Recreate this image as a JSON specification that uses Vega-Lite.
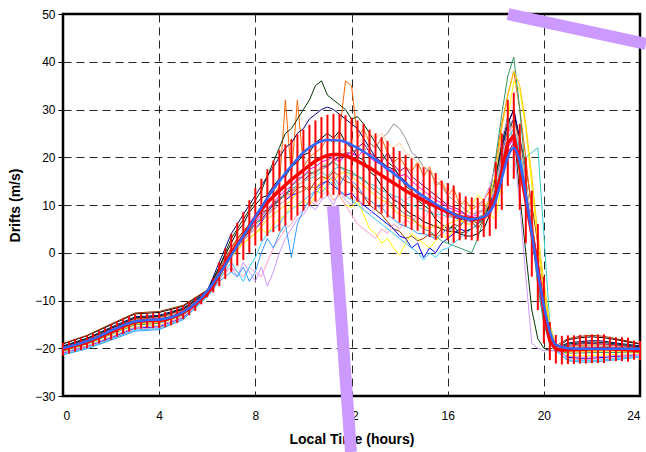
{
"$schema": "https://vega.github.io/schema/vega-lite/v6.json",
"width": 577, "height": 382,
"autosize": {"type": "none"},
"padding": {"left": 63, "top": 14, "right": 6, "bottom": 56},
"background": "white",
"config": {"font": "Liberation Sans", "view": {"stroke": "#000", "strokeWidth": 2.5}},
"datasets": {
"days": [
{"s":"A","t":0,"v":-19.1},{"s":"A","t":1,"v":-17.4},{"s":"A","t":2,"v":-15.1},{"s":"A","t":3,"v":-12.8},{"s":"A","t":4,"v":-12.5},{"s":"A","t":5,"v":-11.2},{"s":"A","t":6,"v":-7.9},{"s":"A","t":6.5,"v":-3},
{"s":"A","t":7,"v":2},{"s":"A","t":7.25,"v":4.5},{"s":"A","t":7.5,"v":6},{"s":"A","t":7.75,"v":8.5},
{"s":"A","t":8,"v":10},{"s":"A","t":8.25,"v":11.5},{"s":"A","t":8.5,"v":12},{"s":"A","t":8.75,"v":14},
{"s":"A","t":9,"v":15.5},{"s":"A","t":9.25,"v":16},{"s":"A","t":9.5,"v":18},{"s":"A","t":9.75,"v":19},
{"s":"A","t":10,"v":20.5},{"s":"A","t":10.25,"v":21},{"s":"A","t":10.5,"v":23},{"s":"A","t":10.75,"v":24},
{"s":"A","t":11,"v":25},{"s":"A","t":11.25,"v":24},{"s":"A","t":11.5,"v":25.5},{"s":"A","t":11.75,"v":23},
{"s":"A","t":12,"v":22},{"s":"A","t":12.25,"v":20},{"s":"A","t":12.5,"v":19.5},{"s":"A","t":12.75,"v":17},
{"s":"A","t":13,"v":16},{"s":"A","t":13.25,"v":14},{"s":"A","t":13.5,"v":12.5},{"s":"A","t":13.75,"v":11},
{"s":"A","t":14,"v":10.5},{"s":"A","t":14.25,"v":9},{"s":"A","t":14.5,"v":8},{"s":"A","t":14.75,"v":7.5},
{"s":"A","t":15,"v":6.5},{"s":"A","t":15.25,"v":6},{"s":"A","t":15.5,"v":5.5},{"s":"A","t":15.75,"v":5},
{"s":"A","t":16,"v":4.5},{"s":"A","t":16.25,"v":4.5},{"s":"A","t":16.5,"v":4},{"s":"A","t":16.75,"v":3.5},
{"s":"A","t":17,"v":3.5},{"s":"A","t":17.25,"v":4},{"s":"A","t":17.5,"v":5},{"s":"A","t":17.75,"v":8},
{"s":"A","t":18,"v":14},{"s":"A","t":18.25,"v":21},{"s":"A","t":18.5,"v":27},{"s":"A","t":18.75,"v":30},
{"s":"A","t":19,"v":22},{"s":"A","t":19.25,"v":14},{"s":"A","t":19.5,"v":6},{"s":"A","t":19.75,"v":-2},
{"s":"A","t":20,"v":-11},{"s":"A","t":20.25,"v":-18},{"s":"A","t":20.5,"v":-20},
{"s":"A","t":21,"v":-18.2},{"s":"A","t":21.5,"v":-17.8},{"s":"A","t":22,"v":-17.6},{"s":"A","t":22.5,"v":-17.8},{"s":"A","t":23,"v":-18.2},{"s":"A","t":23.5,"v":-18.7},{"s":"A","t":24,"v":-19.1},

{"s":"B","t":0,"v":-19.0},{"s":"B","t":1,"v":-17.3},{"s":"B","t":2,"v":-14.9},{"s":"B","t":3,"v":-12.6},{"s":"B","t":4,"v":-12.3},{"s":"B","t":5,"v":-11.0},{"s":"B","t":6,"v":-7.8},{"s":"B","t":6.5,"v":-3.5},
{"s":"B","t":7,"v":1},{"s":"B","t":7.25,"v":3},{"s":"B","t":7.5,"v":4.5},{"s":"B","t":7.75,"v":6},
{"s":"B","t":8,"v":7},{"s":"B","t":8.25,"v":8.5},{"s":"B","t":8.5,"v":9},{"s":"B","t":8.75,"v":10.5},
{"s":"B","t":9,"v":11},{"s":"B","t":9.25,"v":12.5},{"s":"B","t":9.5,"v":12},{"s":"B","t":9.75,"v":13.5},
{"s":"B","t":10,"v":14},{"s":"B","t":10.25,"v":13},{"s":"B","t":10.5,"v":15},{"s":"B","t":10.75,"v":16},
{"s":"B","t":11,"v":15.5},{"s":"B","t":11.25,"v":17},{"s":"B","t":11.5,"v":16},{"s":"B","t":11.75,"v":15},
{"s":"B","t":12,"v":14.5},{"s":"B","t":12.25,"v":13},{"s":"B","t":12.5,"v":12},{"s":"B","t":12.75,"v":10},
{"s":"B","t":13,"v":9},{"s":"B","t":13.25,"v":8},{"s":"B","t":13.5,"v":6.5},{"s":"B","t":13.75,"v":5},
{"s":"B","t":14,"v":4.5},{"s":"B","t":14.25,"v":3},{"s":"B","t":14.5,"v":3.5},{"s":"B","t":14.75,"v":2.5},
{"s":"B","t":15,"v":3},{"s":"B","t":15.25,"v":4},{"s":"B","t":15.5,"v":3.5},{"s":"B","t":15.75,"v":5},
{"s":"B","t":16,"v":4.5},{"s":"B","t":16.25,"v":6},{"s":"B","t":16.5,"v":5.5},{"s":"B","t":16.75,"v":7},
{"s":"B","t":17,"v":6.5},{"s":"B","t":17.25,"v":5},{"s":"B","t":17.5,"v":7},{"s":"B","t":17.75,"v":10},
{"s":"B","t":18,"v":15},{"s":"B","t":18.25,"v":21},{"s":"B","t":18.5,"v":25},{"s":"B","t":18.75,"v":28},
{"s":"B","t":19,"v":24},{"s":"B","t":19.25,"v":18},{"s":"B","t":19.5,"v":10},{"s":"B","t":19.75,"v":2},
{"s":"B","t":20,"v":-8},{"s":"B","t":20.25,"v":-17},{"s":"B","t":20.5,"v":-19.5},
{"s":"B","t":21,"v":-18.0},{"s":"B","t":21.5,"v":-17.5},{"s":"B","t":22,"v":-17.3},{"s":"B","t":22.5,"v":-17.5},{"s":"B","t":23,"v":-18.0},{"s":"B","t":23.5,"v":-18.5},{"s":"B","t":24,"v":-19.0},

{"s":"C","t":0,"v":-19.8},{"s":"C","t":1,"v":-18.3},{"s":"C","t":2,"v":-16.1},{"s":"C","t":3,"v":-13.9},{"s":"C","t":4,"v":-13.6},{"s":"C","t":5,"v":-12.1},{"s":"C","t":6,"v":-8.3},{"s":"C","t":6.5,"v":-4},
{"s":"C","t":7,"v":0},{"s":"C","t":7.25,"v":3},{"s":"C","t":7.5,"v":4},{"s":"C","t":7.75,"v":6},
{"s":"C","t":8,"v":7},{"s":"C","t":8.25,"v":9},{"s":"C","t":8.5,"v":11},{"s":"C","t":8.75,"v":12},
{"s":"C","t":9,"v":14},{"s":"C","t":9.25,"v":32},{"s":"C","t":9.5,"v":16},{"s":"C","t":9.75,"v":32},
{"s":"C","t":10,"v":18},{"s":"C","t":10.25,"v":20},{"s":"C","t":10.5,"v":21},{"s":"C","t":10.75,"v":22},
{"s":"C","t":11,"v":24},{"s":"C","t":11.25,"v":23},{"s":"C","t":11.5,"v":25},{"s":"C","t":11.75,"v":36},
{"s":"C","t":12,"v":35},{"s":"C","t":12.25,"v":24},{"s":"C","t":12.5,"v":26},{"s":"C","t":12.75,"v":23},
{"s":"C","t":13,"v":22},{"s":"C","t":13.25,"v":24},{"s":"C","t":13.5,"v":21},{"s":"C","t":13.75,"v":19},
{"s":"C","t":14,"v":20},{"s":"C","t":14.25,"v":18},{"s":"C","t":14.5,"v":17},{"s":"C","t":14.75,"v":19},
{"s":"C","t":15,"v":16},{"s":"C","t":15.25,"v":18},{"s":"C","t":15.5,"v":14},{"s":"C","t":15.75,"v":15},
{"s":"C","t":16,"v":12},{"s":"C","t":16.25,"v":13.5},{"s":"C","t":16.5,"v":10},{"s":"C","t":16.75,"v":11},
{"s":"C","t":17,"v":9},{"s":"C","t":17.25,"v":10},{"s":"C","t":17.5,"v":11},{"s":"C","t":17.75,"v":13},
{"s":"C","t":18,"v":19},{"s":"C","t":18.25,"v":27},{"s":"C","t":18.5,"v":33},{"s":"C","t":18.75,"v":38},
{"s":"C","t":19,"v":30},{"s":"C","t":19.25,"v":20},{"s":"C","t":19.5,"v":8},{"s":"C","t":19.75,"v":-5},
{"s":"C","t":20,"v":-13},{"s":"C","t":20.25,"v":-18},{"s":"C","t":20.5,"v":-20},
{"s":"C","t":21,"v":-19.6},{"s":"C","t":21.5,"v":-19.4},{"s":"C","t":22,"v":-19.3},{"s":"C","t":22.5,"v":-19.3},{"s":"C","t":23,"v":-19.5},{"s":"C","t":23.5,"v":-19.8},{"s":"C","t":24,"v":-20.0},

{"s":"D","t":0,"v":-20.8},{"s":"D","t":1,"v":-19.4},{"s":"D","t":2,"v":-17.5},{"s":"D","t":3,"v":-15.5},{"s":"D","t":4,"v":-15.2},{"s":"D","t":5,"v":-13.3},{"s":"D","t":6,"v":-8.9},{"s":"D","t":6.5,"v":-5},
{"s":"D","t":7,"v":-1},{"s":"D","t":7.25,"v":1},{"s":"D","t":7.5,"v":2},{"s":"D","t":7.75,"v":3},
{"s":"D","t":8,"v":4},{"s":"D","t":8.25,"v":5},{"s":"D","t":8.5,"v":4},{"s":"D","t":8.75,"v":6},
{"s":"D","t":9,"v":7},{"s":"D","t":9.25,"v":8},{"s":"D","t":9.5,"v":10},{"s":"D","t":9.75,"v":9.5},
{"s":"D","t":10,"v":11},{"s":"D","t":10.25,"v":10},{"s":"D","t":10.5,"v":12},{"s":"D","t":10.75,"v":14},
{"s":"D","t":11,"v":13},{"s":"D","t":11.25,"v":11},{"s":"D","t":11.5,"v":12},{"s":"D","t":11.75,"v":10},
{"s":"D","t":12,"v":9.5},{"s":"D","t":12.25,"v":11},{"s":"D","t":12.5,"v":8},{"s":"D","t":12.75,"v":5},
{"s":"D","t":13,"v":4},{"s":"D","t":13.25,"v":2},{"s":"D","t":13.5,"v":3},{"s":"D","t":13.75,"v":1},
{"s":"D","t":14,"v":-0.5},{"s":"D","t":14.25,"v":2},{"s":"D","t":14.5,"v":4},{"s":"D","t":14.75,"v":3},
{"s":"D","t":15,"v":2},{"s":"D","t":15.25,"v":1},{"s":"D","t":15.5,"v":2.5},{"s":"D","t":15.75,"v":4},
{"s":"D","t":16,"v":3},{"s":"D","t":16.25,"v":5},{"s":"D","t":16.5,"v":6},{"s":"D","t":16.75,"v":8},
{"s":"D","t":17,"v":10},{"s":"D","t":17.25,"v":12},{"s":"D","t":17.5,"v":11},{"s":"D","t":17.75,"v":8},
{"s":"D","t":18,"v":7},{"s":"D","t":18.25,"v":15},{"s":"D","t":18.5,"v":28},{"s":"D","t":18.75,"v":36},
{"s":"D","t":19,"v":34},{"s":"D","t":19.25,"v":26},{"s":"D","t":19.5,"v":14},{"s":"D","t":19.75,"v":2},
{"s":"D","t":20,"v":-8},{"s":"D","t":20.25,"v":-16},{"s":"D","t":20.5,"v":-19.5},
{"s":"D","t":21,"v":-21.5},{"s":"D","t":21.5,"v":-21.6},{"s":"D","t":22,"v":-21.5},{"s":"D","t":22.5,"v":-21.4},{"s":"D","t":23,"v":-21.3},{"s":"D","t":23.5,"v":-21.2},{"s":"D","t":24,"v":-21.2},

{"s":"E","t":0,"v":-20.3},{"s":"E","t":1,"v":-18.8},{"s":"E","t":2,"v":-16.8},{"s":"E","t":3,"v":-14.7},{"s":"E","t":4,"v":-14.4},{"s":"E","t":5,"v":-12.7},{"s":"E","t":6,"v":-8.6},{"s":"E","t":6.5,"v":-4.5},
{"s":"E","t":7,"v":-1},{"s":"E","t":7.25,"v":1.5},{"s":"E","t":7.5,"v":3},{"s":"E","t":7.75,"v":4.5},
{"s":"E","t":8,"v":6},{"s":"E","t":8.25,"v":7},{"s":"E","t":8.5,"v":8.5},{"s":"E","t":8.75,"v":10},
{"s":"E","t":9,"v":11},{"s":"E","t":9.25,"v":12},{"s":"E","t":9.5,"v":13.5},{"s":"E","t":9.75,"v":14},
{"s":"E","t":10,"v":15},{"s":"E","t":10.25,"v":15.5},{"s":"E","t":10.5,"v":16},{"s":"E","t":10.75,"v":17},
{"s":"E","t":11,"v":16},{"s":"E","t":11.25,"v":17.5},{"s":"E","t":11.5,"v":18},{"s":"E","t":11.75,"v":17},
{"s":"E","t":12,"v":16.5},{"s":"E","t":12.25,"v":16},{"s":"E","t":12.5,"v":15},{"s":"E","t":12.75,"v":14.5},
{"s":"E","t":13,"v":14},{"s":"E","t":13.25,"v":13},{"s":"E","t":13.5,"v":12.5},{"s":"E","t":13.75,"v":12},
{"s":"E","t":14,"v":11.5},{"s":"E","t":14.25,"v":10.5},{"s":"E","t":14.5,"v":10},{"s":"E","t":14.75,"v":9.5},
{"s":"E","t":15,"v":9},{"s":"E","t":15.25,"v":8.5},{"s":"E","t":15.5,"v":8},{"s":"E","t":15.75,"v":8},
{"s":"E","t":16,"v":7.5},{"s":"E","t":16.25,"v":7.5},{"s":"E","t":16.5,"v":7},{"s":"E","t":16.75,"v":7},
{"s":"E","t":17,"v":7},{"s":"E","t":17.25,"v":7},{"s":"E","t":17.5,"v":8},{"s":"E","t":17.75,"v":10},
{"s":"E","t":18,"v":14},{"s":"E","t":18.25,"v":22},{"s":"E","t":18.5,"v":29},{"s":"E","t":18.75,"v":22},
{"s":"E","t":19,"v":20},{"s":"E","t":19.25,"v":20},{"s":"E","t":19.5,"v":21},{"s":"E","t":19.75,"v":22},
{"s":"E","t":20,"v":4},{"s":"E","t":20.25,"v":-15},{"s":"E","t":20.5,"v":-20},
{"s":"E","t":21,"v":-20.5},{"s":"E","t":21.5,"v":-20.5},{"s":"E","t":22,"v":-20.4},{"s":"E","t":22.5,"v":-20.4},{"s":"E","t":23,"v":-20.4},{"s":"E","t":23.5,"v":-20.5},{"s":"E","t":24,"v":-20.6},

{"s":"F","t":0,"v":-21.0},{"s":"F","t":1,"v":-19.7},{"s":"F","t":2,"v":-17.8},{"s":"F","t":3,"v":-15.8},{"s":"F","t":4,"v":-15.5},{"s":"F","t":5,"v":-13.6},{"s":"F","t":6,"v":-9.0},{"s":"F","t":6.5,"v":-5},
{"s":"F","t":7,"v":-1},{"s":"F","t":7.25,"v":1},{"s":"F","t":7.5,"v":2.5},{"s":"F","t":7.75,"v":4},
{"s":"F","t":8,"v":5},{"s":"F","t":8.25,"v":6.5},{"s":"F","t":8.5,"v":8},{"s":"F","t":8.75,"v":9},
{"s":"F","t":9,"v":10},{"s":"F","t":9.25,"v":11},{"s":"F","t":9.5,"v":12},{"s":"F","t":9.75,"v":12.5},
{"s":"F","t":10,"v":13},{"s":"F","t":10.25,"v":14},{"s":"F","t":10.5,"v":13.5},{"s":"F","t":10.75,"v":14.5},
{"s":"F","t":11,"v":15},{"s":"F","t":11.25,"v":14},{"s":"F","t":11.5,"v":13},{"s":"F","t":11.75,"v":12},
{"s":"F","t":12,"v":12.5},{"s":"F","t":12.25,"v":11},{"s":"F","t":12.5,"v":10},{"s":"F","t":12.75,"v":9},
{"s":"F","t":13,"v":8},{"s":"F","t":13.25,"v":7},{"s":"F","t":13.5,"v":6},{"s":"F","t":13.75,"v":5},
{"s":"F","t":14,"v":3.5},{"s":"F","t":14.25,"v":3},{"s":"F","t":14.5,"v":1},{"s":"F","t":14.75,"v":2},
{"s":"F","t":15,"v":-1},{"s":"F","t":15.25,"v":1},{"s":"F","t":15.5,"v":0},{"s":"F","t":15.75,"v":2},
{"s":"F","t":16,"v":3},{"s":"F","t":16.25,"v":4},{"s":"F","t":16.5,"v":5},{"s":"F","t":16.75,"v":4.5},
{"s":"F","t":17,"v":5},{"s":"F","t":17.25,"v":6},{"s":"F","t":17.5,"v":7.5},{"s":"F","t":17.75,"v":9},
{"s":"F","t":18,"v":13},{"s":"F","t":18.25,"v":20},{"s":"F","t":18.5,"v":26},{"s":"F","t":18.75,"v":28},
{"s":"F","t":19,"v":22},{"s":"F","t":19.25,"v":14},{"s":"F","t":19.5,"v":5},{"s":"F","t":19.75,"v":-4},
{"s":"F","t":20,"v":-12},{"s":"F","t":20.25,"v":-18},{"s":"F","t":20.5,"v":-20},
{"s":"F","t":21,"v":-21.9},{"s":"F","t":21.5,"v":-22.1},{"s":"F","t":22,"v":-22.1},{"s":"F","t":22.5,"v":-21.9},{"s":"F","t":23,"v":-21.7},{"s":"F","t":23.5,"v":-21.6},{"s":"F","t":24,"v":-21.4},

{"s":"G","t":0,"v":-19.5},{"s":"G","t":1,"v":-17.9},{"s":"G","t":2,"v":-15.6},{"s":"G","t":3,"v":-13.4},{"s":"G","t":4,"v":-13.1},{"s":"G","t":5,"v":-11.6},{"s":"G","t":6,"v":-8.1},{"s":"G","t":6.5,"v":-2},
{"s":"G","t":7,"v":4},{"s":"G","t":7.25,"v":6},{"s":"G","t":7.5,"v":8},{"s":"G","t":7.75,"v":10},
{"s":"G","t":8,"v":12},{"s":"G","t":8.25,"v":14},{"s":"G","t":8.5,"v":16},{"s":"G","t":8.75,"v":18},
{"s":"G","t":9,"v":20},{"s":"G","t":9.25,"v":22},{"s":"G","t":9.5,"v":23},{"s":"G","t":9.75,"v":25},
{"s":"G","t":10,"v":26},{"s":"G","t":10.25,"v":28},{"s":"G","t":10.5,"v":29},{"s":"G","t":10.75,"v":30},
{"s":"G","t":11,"v":30.5},{"s":"G","t":11.25,"v":30},{"s":"G","t":11.5,"v":29},{"s":"G","t":11.75,"v":28},
{"s":"G","t":12,"v":27},{"s":"G","t":12.25,"v":26},{"s":"G","t":12.5,"v":24},{"s":"G","t":12.75,"v":22},
{"s":"G","t":13,"v":20},{"s":"G","t":13.25,"v":19},{"s":"G","t":13.5,"v":18},{"s":"G","t":13.75,"v":17.5},
{"s":"G","t":14,"v":16},{"s":"G","t":14.25,"v":15},{"s":"G","t":14.5,"v":13.5},{"s":"G","t":14.75,"v":12.5},
{"s":"G","t":15,"v":11},{"s":"G","t":15.25,"v":10.5},{"s":"G","t":15.5,"v":9.5},{"s":"G","t":15.75,"v":9},
{"s":"G","t":16,"v":8},{"s":"G","t":16.25,"v":7.5},{"s":"G","t":16.5,"v":7},{"s":"G","t":16.75,"v":7},
{"s":"G","t":17,"v":6.5},{"s":"G","t":17.25,"v":7},{"s":"G","t":17.5,"v":8},{"s":"G","t":17.75,"v":11},
{"s":"G","t":18,"v":16},{"s":"G","t":18.25,"v":22},{"s":"G","t":18.5,"v":27},{"s":"G","t":18.75,"v":30},
{"s":"G","t":19,"v":24},{"s":"G","t":19.25,"v":15},{"s":"G","t":19.5,"v":6},{"s":"G","t":19.75,"v":-4},
{"s":"G","t":20,"v":-12},{"s":"G","t":20.25,"v":-18},{"s":"G","t":20.5,"v":-20},
{"s":"G","t":21,"v":-18.9},{"s":"G","t":21.5,"v":-18.6},{"s":"G","t":22,"v":-18.4},{"s":"G","t":22.5,"v":-18.5},{"s":"G","t":23,"v":-18.9},{"s":"G","t":23.5,"v":-19.2},{"s":"G","t":24,"v":-19.5},

{"s":"H","t":0,"v":-20.2},{"s":"H","t":1,"v":-18.7},{"s":"H","t":2,"v":-16.6},{"s":"H","t":3,"v":-14.5},{"s":"H","t":4,"v":-14.2},{"s":"H","t":5,"v":-12.5},{"s":"H","t":6,"v":-8.5},{"s":"H","t":6.5,"v":-4},
{"s":"H","t":7,"v":0},{"s":"H","t":7.25,"v":2},{"s":"H","t":7.5,"v":3.5},{"s":"H","t":7.75,"v":5},
{"s":"H","t":8,"v":6.5},{"s":"H","t":8.25,"v":8},{"s":"H","t":8.5,"v":9},{"s":"H","t":8.75,"v":10.5},
{"s":"H","t":9,"v":12},{"s":"H","t":9.25,"v":13},{"s":"H","t":9.5,"v":14},{"s":"H","t":9.75,"v":15.5},
{"s":"H","t":10,"v":16},{"s":"H","t":10.25,"v":17.5},{"s":"H","t":10.5,"v":18},{"s":"H","t":10.75,"v":19},
{"s":"H","t":11,"v":19.5},{"s":"H","t":11.25,"v":20},{"s":"H","t":11.5,"v":19},{"s":"H","t":11.75,"v":20.5},
{"s":"H","t":12,"v":21},{"s":"H","t":12.25,"v":20},{"s":"H","t":12.5,"v":21.5},{"s":"H","t":12.75,"v":20},
{"s":"H","t":13,"v":19},{"s":"H","t":13.25,"v":18.5},{"s":"H","t":13.5,"v":17},{"s":"H","t":13.75,"v":17.5},
{"s":"H","t":14,"v":16},{"s":"H","t":14.25,"v":16.5},{"s":"H","t":14.5,"v":15},{"s":"H","t":14.75,"v":14},
{"s":"H","t":15,"v":13},{"s":"H","t":15.25,"v":12},{"s":"H","t":15.5,"v":11},{"s":"H","t":15.75,"v":10.5},
{"s":"H","t":16,"v":9.5},{"s":"H","t":16.25,"v":9},{"s":"H","t":16.5,"v":8.5},{"s":"H","t":16.75,"v":8},
{"s":"H","t":17,"v":7.5},{"s":"H","t":17.25,"v":8},{"s":"H","t":17.5,"v":9},{"s":"H","t":17.75,"v":10},
{"s":"H","t":18,"v":13},{"s":"H","t":18.25,"v":18},{"s":"H","t":18.5,"v":22},{"s":"H","t":18.75,"v":24},
{"s":"H","t":19,"v":20},{"s":"H","t":19.25,"v":12},{"s":"H","t":19.5,"v":4},{"s":"H","t":19.75,"v":-5},
{"s":"H","t":20,"v":-13},{"s":"H","t":20.25,"v":-18},{"s":"H","t":20.5,"v":-20},
{"s":"H","t":21,"v":-20.3},{"s":"H","t":21.5,"v":-20.2},{"s":"H","t":22,"v":-20.1},{"s":"H","t":22.5,"v":-20.1},{"s":"H","t":23,"v":-20.2},{"s":"H","t":23.5,"v":-20.3},{"s":"H","t":24,"v":-20.5},

{"s":"I","t":0,"v":-19.7},{"s":"I","t":1,"v":-18.1},{"s":"I","t":2,"v":-15.9},{"s":"I","t":3,"v":-13.7},{"s":"I","t":4,"v":-13.4},{"s":"I","t":5,"v":-11.9},{"s":"I","t":6,"v":-8.2},{"s":"I","t":6.5,"v":-4},
{"s":"I","t":7,"v":0},{"s":"I","t":7.25,"v":2},{"s":"I","t":7.5,"v":3},{"s":"I","t":7.75,"v":4.5},
{"s":"I","t":8,"v":6},{"s":"I","t":8.25,"v":7},{"s":"I","t":8.5,"v":8.5},{"s":"I","t":8.75,"v":10},
{"s":"I","t":9,"v":11},{"s":"I","t":9.25,"v":12.5},{"s":"I","t":9.5,"v":13},{"s":"I","t":9.75,"v":14},
{"s":"I","t":10,"v":15},{"s":"I","t":10.25,"v":16.5},{"s":"I","t":10.5,"v":17},{"s":"I","t":10.75,"v":18},
{"s":"I","t":11,"v":18},{"s":"I","t":11.25,"v":19.5},{"s":"I","t":11.5,"v":20},{"s":"I","t":11.75,"v":21},
{"s":"I","t":12,"v":20},{"s":"I","t":12.25,"v":22},{"s":"I","t":12.5,"v":23},{"s":"I","t":12.75,"v":21},
{"s":"I","t":13,"v":20},{"s":"I","t":13.25,"v":19},{"s":"I","t":13.5,"v":21},{"s":"I","t":13.75,"v":18.5},
{"s":"I","t":14,"v":17},{"s":"I","t":14.25,"v":18},{"s":"I","t":14.5,"v":16},{"s":"I","t":14.75,"v":15},
{"s":"I","t":15,"v":14},{"s":"I","t":15.25,"v":13},{"s":"I","t":15.5,"v":12},{"s":"I","t":15.75,"v":11},
{"s":"I","t":16,"v":10},{"s":"I","t":16.25,"v":9.5},{"s":"I","t":16.5,"v":9},{"s":"I","t":16.75,"v":8},
{"s":"I","t":17,"v":7},{"s":"I","t":17.25,"v":6},{"s":"I","t":17.5,"v":8},{"s":"I","t":17.75,"v":10},
{"s":"I","t":18,"v":12},{"s":"I","t":18.25,"v":17},{"s":"I","t":18.5,"v":21},{"s":"I","t":18.75,"v":23},
{"s":"I","t":19,"v":21},{"s":"I","t":19.25,"v":13},{"s":"I","t":19.5,"v":5},{"s":"I","t":19.75,"v":-4},
{"s":"I","t":20,"v":-12},{"s":"I","t":20.25,"v":-18},{"s":"I","t":20.5,"v":-20},
{"s":"I","t":21,"v":-19.4},{"s":"I","t":21.5,"v":-19.1},{"s":"I","t":22,"v":-19.0},{"s":"I","t":22.5,"v":-19.1},{"s":"I","t":23,"v":-19.3},{"s":"I","t":23.5,"v":-19.6},{"s":"I","t":24,"v":-19.9},

{"s":"J","t":0,"v":-19.6},{"s":"J","t":1,"v":-18.0},{"s":"J","t":2,"v":-15.8},{"s":"J","t":3,"v":-13.6},{"s":"J","t":4,"v":-13.3},{"s":"J","t":5,"v":-11.8},{"s":"J","t":6,"v":-8.2},{"s":"J","t":6.5,"v":-3},
{"s":"J","t":7,"v":3},{"s":"J","t":7.25,"v":5},{"s":"J","t":7.5,"v":7},{"s":"J","t":7.75,"v":9},
{"s":"J","t":8,"v":11},{"s":"J","t":8.25,"v":13},{"s":"J","t":8.5,"v":16},{"s":"J","t":8.75,"v":19},
{"s":"J","t":9,"v":22},{"s":"J","t":9.25,"v":25},{"s":"J","t":9.5,"v":26},{"s":"J","t":9.75,"v":28},
{"s":"J","t":10,"v":30},{"s":"J","t":10.25,"v":32},{"s":"J","t":10.5,"v":35},{"s":"J","t":10.75,"v":36},
{"s":"J","t":11,"v":33},{"s":"J","t":11.25,"v":32},{"s":"J","t":11.5,"v":31},{"s":"J","t":11.75,"v":30},
{"s":"J","t":12,"v":28},{"s":"J","t":12.25,"v":28.5},{"s":"J","t":12.5,"v":27},{"s":"J","t":12.75,"v":25},
{"s":"J","t":13,"v":23},{"s":"J","t":13.25,"v":21},{"s":"J","t":13.5,"v":19},{"s":"J","t":13.75,"v":18},
{"s":"J","t":14,"v":16},{"s":"J","t":14.25,"v":14},{"s":"J","t":14.5,"v":13},{"s":"J","t":14.75,"v":11},
{"s":"J","t":15,"v":10},{"s":"J","t":15.25,"v":9},{"s":"J","t":15.5,"v":7},{"s":"J","t":15.75,"v":6},
{"s":"J","t":16,"v":5},{"s":"J","t":16.25,"v":5.5},{"s":"J","t":16.5,"v":4},{"s":"J","t":16.75,"v":4.5},
{"s":"J","t":17,"v":5},{"s":"J","t":17.25,"v":6},{"s":"J","t":17.5,"v":7},{"s":"J","t":17.75,"v":10},
{"s":"J","t":18,"v":16},{"s":"J","t":18.25,"v":23},{"s":"J","t":18.5,"v":28},{"s":"J","t":18.75,"v":26},
{"s":"J","t":19,"v":12},{"s":"J","t":19.25,"v":0},{"s":"J","t":19.5,"v":-12},{"s":"J","t":19.75,"v":-18},
{"s":"J","t":20,"v":-20},{"s":"J","t":20.25,"v":-20.5},{"s":"J","t":20.5,"v":-20.5},
{"s":"J","t":21,"v":-19.1},{"s":"J","t":21.5,"v":-18.9},{"s":"J","t":22,"v":-18.7},{"s":"J","t":22.5,"v":-18.8},{"s":"J","t":23,"v":-19.1},{"s":"J","t":23.5,"v":-19.4},{"s":"J","t":24,"v":-19.7},

{"s":"K","t":0,"v":-20.6},{"s":"K","t":1,"v":-19.1},{"s":"K","t":2,"v":-17.1},{"s":"K","t":3,"v":-15.1},{"s":"K","t":4,"v":-14.8},{"s":"K","t":5,"v":-13.0},{"s":"K","t":6,"v":-8.7},{"s":"K","t":6.5,"v":-4},
{"s":"K","t":7,"v":0},{"s":"K","t":7.25,"v":2},{"s":"K","t":7.5,"v":3},{"s":"K","t":7.75,"v":5},
{"s":"K","t":8,"v":6},{"s":"K","t":8.25,"v":7.5},{"s":"K","t":8.5,"v":9},{"s":"K","t":8.75,"v":10},
{"s":"K","t":9,"v":11.5},{"s":"K","t":9.25,"v":12},{"s":"K","t":9.5,"v":14},{"s":"K","t":9.75,"v":15},
{"s":"K","t":10,"v":16},{"s":"K","t":10.25,"v":17},{"s":"K","t":10.5,"v":16.5},{"s":"K","t":10.75,"v":18},
{"s":"K","t":11,"v":18.5},{"s":"K","t":11.25,"v":19},{"s":"K","t":11.5,"v":18},{"s":"K","t":11.75,"v":17.5},
{"s":"K","t":12,"v":17},{"s":"K","t":12.25,"v":16},{"s":"K","t":12.5,"v":15.5},{"s":"K","t":12.75,"v":14},
{"s":"K","t":13,"v":13},{"s":"K","t":13.25,"v":12},{"s":"K","t":13.5,"v":11},{"s":"K","t":13.75,"v":10},
{"s":"K","t":14,"v":9},{"s":"K","t":14.25,"v":8},{"s":"K","t":14.5,"v":7.5},{"s":"K","t":14.75,"v":6},
{"s":"K","t":15,"v":5},{"s":"K","t":15.25,"v":4.5},{"s":"K","t":15.5,"v":3.5},{"s":"K","t":15.75,"v":2.5},
{"s":"K","t":16,"v":2},{"s":"K","t":16.25,"v":1.5},{"s":"K","t":16.5,"v":1},{"s":"K","t":16.75,"v":0.5},
{"s":"K","t":17,"v":0},{"s":"K","t":17.25,"v":3},{"s":"K","t":17.5,"v":7},{"s":"K","t":17.75,"v":12},
{"s":"K","t":18,"v":20},{"s":"K","t":18.25,"v":29},{"s":"K","t":18.5,"v":37},{"s":"K","t":18.75,"v":41},
{"s":"K","t":19,"v":30},{"s":"K","t":19.25,"v":16},{"s":"K","t":19.5,"v":4},{"s":"K","t":19.75,"v":-7},
{"s":"K","t":20,"v":-15},{"s":"K","t":20.25,"v":-19},{"s":"K","t":20.5,"v":-20.5},
{"s":"K","t":21,"v":-21.0},{"s":"K","t":21.5,"v":-21.0},{"s":"K","t":22,"v":-20.9},{"s":"K","t":22.5,"v":-20.9},{"s":"K","t":23,"v":-20.9},{"s":"K","t":23.5,"v":-20.8},{"s":"K","t":24,"v":-20.9},

{"s":"L","t":0,"v":-21.2},{"s":"L","t":1,"v":-19.8},{"s":"L","t":2,"v":-18.0},{"s":"L","t":3,"v":-16.0},{"s":"L","t":4,"v":-15.7},{"s":"L","t":5,"v":-13.7},{"s":"L","t":6,"v":-9.1},{"s":"L","t":6.5,"v":-5.5},
{"s":"L","t":7,"v":-3},{"s":"L","t":7.25,"v":-4},{"s":"L","t":7.5,"v":-5},{"s":"L","t":7.75,"v":-3},
{"s":"L","t":8,"v":-4},{"s":"L","t":8.25,"v":-5},{"s":"L","t":8.5,"v":-2},{"s":"L","t":8.75,"v":1},
{"s":"L","t":9,"v":3},{"s":"L","t":9.25,"v":5},{"s":"L","t":9.5,"v":6},{"s":"L","t":9.75,"v":8},
{"s":"L","t":10,"v":9},{"s":"L","t":10.25,"v":11},{"s":"L","t":10.5,"v":10},{"s":"L","t":10.75,"v":12},
{"s":"L","t":11,"v":13},{"s":"L","t":11.25,"v":11},{"s":"L","t":11.5,"v":12},{"s":"L","t":11.75,"v":10},
{"s":"L","t":12,"v":8},{"s":"L","t":12.25,"v":6},{"s":"L","t":12.5,"v":5},{"s":"L","t":12.75,"v":4},
{"s":"L","t":13,"v":3},{"s":"L","t":13.25,"v":5},{"s":"L","t":13.5,"v":4},{"s":"L","t":13.75,"v":6},
{"s":"L","t":14,"v":5},{"s":"L","t":14.25,"v":7},{"s":"L","t":14.5,"v":6},{"s":"L","t":14.75,"v":8},
{"s":"L","t":15,"v":7},{"s":"L","t":15.25,"v":9},{"s":"L","t":15.5,"v":8},{"s":"L","t":15.75,"v":7},
{"s":"L","t":16,"v":8},{"s":"L","t":16.25,"v":7.5},{"s":"L","t":16.5,"v":8},{"s":"L","t":16.75,"v":6},
{"s":"L","t":17,"v":7},{"s":"L","t":17.25,"v":8},{"s":"L","t":17.5,"v":9},{"s":"L","t":17.75,"v":11},
{"s":"L","t":18,"v":14},{"s":"L","t":18.25,"v":20},{"s":"L","t":18.5,"v":25},{"s":"L","t":18.75,"v":27},
{"s":"L","t":19,"v":22},{"s":"L","t":19.25,"v":14},{"s":"L","t":19.5,"v":5},{"s":"L","t":19.75,"v":-5},
{"s":"L","t":20,"v":-13},{"s":"L","t":20.25,"v":-18},{"s":"L","t":20.5,"v":-20},
{"s":"L","t":21,"v":-22.1},{"s":"L","t":21.5,"v":-22.4},{"s":"L","t":22,"v":-22.3},{"s":"L","t":22.5,"v":-22.2},{"s":"L","t":23,"v":-22.0},{"s":"L","t":23.5,"v":-21.7},{"s":"L","t":24,"v":-21.5},

{"s":"M","t":0,"v":-20.9},{"s":"M","t":1,"v":-19.5},{"s":"M","t":2,"v":-17.6},{"s":"M","t":3,"v":-15.6},{"s":"M","t":4,"v":-15.3},{"s":"M","t":5,"v":-13.4},{"s":"M","t":6,"v":-8.9},{"s":"M","t":6.5,"v":-5},
{"s":"M","t":7,"v":-3},{"s":"M","t":7.25,"v":-5},{"s":"M","t":7.5,"v":-2},{"s":"M","t":7.75,"v":-4},
{"s":"M","t":8,"v":-6},{"s":"M","t":8.25,"v":-3},{"s":"M","t":8.5,"v":-7},{"s":"M","t":8.75,"v":-4},
{"s":"M","t":9,"v":0},{"s":"M","t":9.25,"v":3},{"s":"M","t":9.5,"v":5},{"s":"M","t":9.75,"v":7},
{"s":"M","t":10,"v":8},{"s":"M","t":10.25,"v":10},{"s":"M","t":10.5,"v":9},{"s":"M","t":10.75,"v":11},
{"s":"M","t":11,"v":12},{"s":"M","t":11.25,"v":10},{"s":"M","t":11.5,"v":13},{"s":"M","t":11.75,"v":11},
{"s":"M","t":12,"v":10},{"s":"M","t":12.25,"v":12},{"s":"M","t":12.5,"v":9},{"s":"M","t":12.75,"v":8},
{"s":"M","t":13,"v":10},{"s":"M","t":13.25,"v":9},{"s":"M","t":13.5,"v":11},{"s":"M","t":13.75,"v":12},
{"s":"M","t":14,"v":10},{"s":"M","t":14.25,"v":11},{"s":"M","t":14.5,"v":12},{"s":"M","t":14.75,"v":13},
{"s":"M","t":15,"v":10},{"s":"M","t":15.25,"v":11},{"s":"M","t":15.5,"v":9},{"s":"M","t":15.75,"v":8},
{"s":"M","t":16,"v":9},{"s":"M","t":16.25,"v":8},{"s":"M","t":16.5,"v":7},{"s":"M","t":16.75,"v":8},
{"s":"M","t":17,"v":7},{"s":"M","t":17.25,"v":9},{"s":"M","t":17.5,"v":11},{"s":"M","t":17.75,"v":14},
{"s":"M","t":18,"v":18},{"s":"M","t":18.25,"v":24},{"s":"M","t":18.5,"v":28},{"s":"M","t":18.75,"v":22},
{"s":"M","t":19,"v":10},{"s":"M","t":19.25,"v":-5},{"s":"M","t":19.5,"v":-19},{"s":"M","t":19.75,"v":-20},
{"s":"M","t":20,"v":-20.5},{"s":"M","t":20.25,"v":-20.5},{"s":"M","t":20.5,"v":-20.5},
{"s":"M","t":21,"v":-21.7},{"s":"M","t":21.5,"v":-21.8},{"s":"M","t":22,"v":-21.8},{"s":"M","t":22.5,"v":-21.7},{"s":"M","t":23,"v":-21.5},{"s":"M","t":23.5,"v":-21.4},{"s":"M","t":24,"v":-21.3},

{"s":"N","t":0,"v":-20.0},{"s":"N","t":1,"v":-18.4},{"s":"N","t":2,"v":-16.3},{"s":"N","t":3,"v":-14.1},{"s":"N","t":4,"v":-13.8},{"s":"N","t":5,"v":-12.2},{"s":"N","t":6,"v":-8.4},{"s":"N","t":6.5,"v":-4},
{"s":"N","t":7,"v":0},{"s":"N","t":7.25,"v":1},{"s":"N","t":7.5,"v":3},{"s":"N","t":7.75,"v":4},
{"s":"N","t":8,"v":6},{"s":"N","t":8.25,"v":7},{"s":"N","t":8.5,"v":8},{"s":"N","t":8.75,"v":9.5},
{"s":"N","t":9,"v":11},{"s":"N","t":9.25,"v":12},{"s":"N","t":9.5,"v":12.5},{"s":"N","t":9.75,"v":14},
{"s":"N","t":10,"v":15},{"s":"N","t":10.25,"v":16},{"s":"N","t":10.5,"v":17},{"s":"N","t":10.75,"v":17.5},
{"s":"N","t":11,"v":18},{"s":"N","t":11.25,"v":19},{"s":"N","t":11.5,"v":20},{"s":"N","t":11.75,"v":21},
{"s":"N","t":12,"v":21},{"s":"N","t":12.25,"v":22},{"s":"N","t":12.5,"v":21},{"s":"N","t":12.75,"v":23},
{"s":"N","t":13,"v":22},{"s":"N","t":13.25,"v":24},{"s":"N","t":13.5,"v":25},{"s":"N","t":13.75,"v":27},
{"s":"N","t":14,"v":26},{"s":"N","t":14.25,"v":24},{"s":"N","t":14.5,"v":21},{"s":"N","t":14.75,"v":20},
{"s":"N","t":15,"v":18},{"s":"N","t":15.25,"v":17},{"s":"N","t":15.5,"v":15},{"s":"N","t":15.75,"v":14},
{"s":"N","t":16,"v":12},{"s":"N","t":16.25,"v":11},{"s":"N","t":16.5,"v":10},{"s":"N","t":16.75,"v":9},
{"s":"N","t":17,"v":8},{"s":"N","t":17.25,"v":8.5},{"s":"N","t":17.5,"v":9},{"s":"N","t":17.75,"v":11},
{"s":"N","t":18,"v":15},{"s":"N","t":18.25,"v":21},{"s":"N","t":18.5,"v":26},{"s":"N","t":18.75,"v":28},
{"s":"N","t":19,"v":22},{"s":"N","t":19.25,"v":14},{"s":"N","t":19.5,"v":6},{"s":"N","t":19.75,"v":-3},
{"s":"N","t":20,"v":-11},{"s":"N","t":20.25,"v":-18},{"s":"N","t":20.5,"v":-20},
{"s":"N","t":21,"v":-19.8},{"s":"N","t":21.5,"v":-19.7},{"s":"N","t":22,"v":-19.5},{"s":"N","t":22.5,"v":-19.6},{"s":"N","t":23,"v":-19.8},{"s":"N","t":23.5,"v":-20.0},{"s":"N","t":24,"v":-20.2},

{"s":"O","t":0,"v":-20.1},{"s":"O","t":1,"v":-18.6},{"s":"O","t":2,"v":-16.4},{"s":"O","t":3,"v":-14.3},{"s":"O","t":4,"v":-14.0},{"s":"O","t":5,"v":-12.4},{"s":"O","t":6,"v":-8.4},{"s":"O","t":6.5,"v":-4.5},
{"s":"O","t":7,"v":-1},{"s":"O","t":7.25,"v":1},{"s":"O","t":7.5,"v":2.5},{"s":"O","t":7.75,"v":4},
{"s":"O","t":8,"v":5},{"s":"O","t":8.25,"v":6},{"s":"O","t":8.5,"v":8},{"s":"O","t":8.75,"v":9},
{"s":"O","t":9,"v":10},{"s":"O","t":9.25,"v":11},{"s":"O","t":9.5,"v":13},{"s":"O","t":9.75,"v":14},
{"s":"O","t":10,"v":15},{"s":"O","t":10.25,"v":16},{"s":"O","t":10.5,"v":17},{"s":"O","t":10.75,"v":18},
{"s":"O","t":11,"v":19},{"s":"O","t":11.25,"v":20},{"s":"O","t":11.5,"v":21},{"s":"O","t":11.75,"v":22},
{"s":"O","t":12,"v":24},{"s":"O","t":12.25,"v":23},{"s":"O","t":12.5,"v":24},{"s":"O","t":12.75,"v":25},
{"s":"O","t":13,"v":24},{"s":"O","t":13.25,"v":25},{"s":"O","t":13.5,"v":23},{"s":"O","t":13.75,"v":22},
{"s":"O","t":14,"v":23},{"s":"O","t":14.25,"v":21},{"s":"O","t":14.5,"v":20},{"s":"O","t":14.75,"v":19},
{"s":"O","t":15,"v":18},{"s":"O","t":15.25,"v":17.5},{"s":"O","t":15.5,"v":16},{"s":"O","t":15.75,"v":15},
{"s":"O","t":16,"v":13},{"s":"O","t":16.25,"v":12},{"s":"O","t":16.5,"v":11},{"s":"O","t":16.75,"v":10},
{"s":"O","t":17,"v":9.5},{"s":"O","t":17.25,"v":10},{"s":"O","t":17.5,"v":10},{"s":"O","t":17.75,"v":11},
{"s":"O","t":18,"v":14},{"s":"O","t":18.25,"v":19},{"s":"O","t":18.5,"v":24},{"s":"O","t":18.75,"v":27},
{"s":"O","t":19,"v":23},{"s":"O","t":19.25,"v":15},{"s":"O","t":19.5,"v":6},{"s":"O","t":19.75,"v":-3},
{"s":"O","t":20,"v":-11},{"s":"O","t":20.25,"v":-18},{"s":"O","t":20.5,"v":-20},
{"s":"O","t":21,"v":-20.1},{"s":"O","t":21.5,"v":-19.9},{"s":"O","t":22,"v":-19.8},{"s":"O","t":22.5,"v":-19.8},{"s":"O","t":23,"v":-20.0},{"s":"O","t":23.5,"v":-20.1},{"s":"O","t":24,"v":-20.4},

{"s":"P","t":0,"v":-21.4},{"s":"P","t":1,"v":-20.1},{"s":"P","t":2,"v":-18.3},{"s":"P","t":3,"v":-16.4},{"s":"P","t":4,"v":-16.1},{"s":"P","t":5,"v":-14.0},{"s":"P","t":6,"v":-9.2},{"s":"P","t":6.5,"v":-6},
{"s":"P","t":7,"v":-4},{"s":"P","t":7.25,"v":-5},{"s":"P","t":7.5,"v":-3},{"s":"P","t":7.75,"v":-6},
{"s":"P","t":8,"v":-4},{"s":"P","t":8.25,"v":0},{"s":"P","t":8.5,"v":3},{"s":"P","t":8.75,"v":1},
{"s":"P","t":9,"v":4},{"s":"P","t":9.25,"v":6},{"s":"P","t":9.5,"v":-1},{"s":"P","t":9.75,"v":6},
{"s":"P","t":10,"v":9},{"s":"P","t":10.25,"v":11},{"s":"P","t":10.5,"v":13},{"s":"P","t":10.75,"v":14},
{"s":"P","t":11,"v":15},{"s":"P","t":11.25,"v":16},{"s":"P","t":11.5,"v":14},{"s":"P","t":11.75,"v":16.5},
{"s":"P","t":12,"v":15},{"s":"P","t":12.25,"v":14},{"s":"P","t":12.5,"v":12},{"s":"P","t":12.75,"v":11},
{"s":"P","t":13,"v":10},{"s":"P","t":13.25,"v":9.5},{"s":"P","t":13.5,"v":8},{"s":"P","t":13.75,"v":7},
{"s":"P","t":14,"v":6},{"s":"P","t":14.25,"v":5.5},{"s":"P","t":14.5,"v":5},{"s":"P","t":14.75,"v":4},
{"s":"P","t":15,"v":4},{"s":"P","t":15.25,"v":3.5},{"s":"P","t":15.5,"v":3},{"s":"P","t":15.75,"v":4},
{"s":"P","t":16,"v":5},{"s":"P","t":16.25,"v":5},{"s":"P","t":16.5,"v":6},{"s":"P","t":16.75,"v":6.5},
{"s":"P","t":17,"v":7},{"s":"P","t":17.25,"v":7.5},{"s":"P","t":17.5,"v":8},{"s":"P","t":17.75,"v":9},
{"s":"P","t":18,"v":12},{"s":"P","t":18.25,"v":18},{"s":"P","t":18.5,"v":23},{"s":"P","t":18.75,"v":25},
{"s":"P","t":19,"v":21},{"s":"P","t":19.25,"v":13},{"s":"P","t":19.5,"v":4},{"s":"P","t":19.75,"v":-6},
{"s":"P","t":20,"v":-14},{"s":"P","t":20.25,"v":-19},{"s":"P","t":20.5,"v":-20.5},
{"s":"P","t":21,"v":-22.6},{"s":"P","t":21.5,"v":-22.9},{"s":"P","t":22,"v":-22.9},{"s":"P","t":22.5,"v":-22.7},{"s":"P","t":23,"v":-22.4},{"s":"P","t":23.5,"v":-22.1},{"s":"P","t":24,"v":-21.8},

{"s":"Q","t":0,"v":-21.3},{"s":"Q","t":1,"v":-20.0},{"s":"Q","t":2,"v":-18.1},{"s":"Q","t":3,"v":-16.2},{"s":"Q","t":4,"v":-15.9},{"s":"Q","t":5,"v":-13.9},{"s":"Q","t":6,"v":-9.1},{"s":"Q","t":6.5,"v":-5.5},
{"s":"Q","t":7,"v":-2},{"s":"Q","t":7.25,"v":-4},{"s":"Q","t":7.5,"v":-6},{"s":"Q","t":7.75,"v":-3},
{"s":"Q","t":8,"v":-1},{"s":"Q","t":8.25,"v":2},{"s":"Q","t":8.5,"v":4},{"s":"Q","t":8.75,"v":5},
{"s":"Q","t":9,"v":6},{"s":"Q","t":9.25,"v":8},{"s":"Q","t":9.5,"v":9},{"s":"Q","t":9.75,"v":10},
{"s":"Q","t":10,"v":11},{"s":"Q","t":10.25,"v":12},{"s":"Q","t":10.5,"v":13},{"s":"Q","t":10.75,"v":12.5},
{"s":"Q","t":11,"v":14},{"s":"Q","t":11.25,"v":15},{"s":"Q","t":11.5,"v":13},{"s":"Q","t":11.75,"v":12},
{"s":"Q","t":12,"v":11},{"s":"Q","t":12.25,"v":10},{"s":"Q","t":12.5,"v":9},{"s":"Q","t":12.75,"v":8},
{"s":"Q","t":13,"v":7},{"s":"Q","t":13.25,"v":6},{"s":"Q","t":13.5,"v":5},{"s":"Q","t":13.75,"v":4},
{"s":"Q","t":14,"v":3},{"s":"Q","t":14.25,"v":2},{"s":"Q","t":14.5,"v":1},{"s":"Q","t":14.75,"v":0},
{"s":"Q","t":15,"v":-1.5},{"s":"Q","t":15.25,"v":0},{"s":"Q","t":15.5,"v":-1},{"s":"Q","t":15.75,"v":0.5},
{"s":"Q","t":16,"v":1},{"s":"Q","t":16.25,"v":2},{"s":"Q","t":16.5,"v":3},{"s":"Q","t":16.75,"v":4},
{"s":"Q","t":17,"v":5},{"s":"Q","t":17.25,"v":6},{"s":"Q","t":17.5,"v":7.5},{"s":"Q","t":17.75,"v":9},
{"s":"Q","t":18,"v":13},{"s":"Q","t":18.25,"v":19},{"s":"Q","t":18.5,"v":24},{"s":"Q","t":18.75,"v":26},
{"s":"Q","t":19,"v":21},{"s":"Q","t":19.25,"v":13},{"s":"Q","t":19.5,"v":4},{"s":"Q","t":19.75,"v":-5},
{"s":"Q","t":20,"v":-13},{"s":"Q","t":20.25,"v":-18.5},{"s":"Q","t":20.5,"v":-20.5},
{"s":"Q","t":21,"v":-22.4},{"s":"Q","t":21.5,"v":-22.6},{"s":"Q","t":22,"v":-22.6},{"s":"Q","t":22.5,"v":-22.4},{"s":"Q","t":23,"v":-22.2},{"s":"Q","t":23.5,"v":-21.9},{"s":"Q","t":24,"v":-21.7},

{"s":"R","t":0,"v":-20.4},{"s":"R","t":1,"v":-19.0},{"s":"R","t":2,"v":-16.9},{"s":"R","t":3,"v":-14.9},{"s":"R","t":4,"v":-14.6},{"s":"R","t":5,"v":-12.8},{"s":"R","t":6,"v":-8.6},{"s":"R","t":6.5,"v":-5},
{"s":"R","t":7,"v":-1},{"s":"R","t":7.25,"v":0.5},{"s":"R","t":7.5,"v":2},{"s":"R","t":7.75,"v":3},
{"s":"R","t":8,"v":4},{"s":"R","t":8.25,"v":5.5},{"s":"R","t":8.5,"v":7},{"s":"R","t":8.75,"v":8},
{"s":"R","t":9,"v":9},{"s":"R","t":9.25,"v":10},{"s":"R","t":9.5,"v":11},{"s":"R","t":9.75,"v":12.5},
{"s":"R","t":10,"v":13},{"s":"R","t":10.25,"v":14},{"s":"R","t":10.5,"v":13.5},{"s":"R","t":10.75,"v":15},
{"s":"R","t":11,"v":16},{"s":"R","t":11.25,"v":15},{"s":"R","t":11.5,"v":16.5},{"s":"R","t":11.75,"v":17},
{"s":"R","t":12,"v":16},{"s":"R","t":12.25,"v":15},{"s":"R","t":12.5,"v":14},{"s":"R","t":12.75,"v":13},
{"s":"R","t":13,"v":12},{"s":"R","t":13.25,"v":11},{"s":"R","t":13.5,"v":10.5},{"s":"R","t":13.75,"v":9},
{"s":"R","t":14,"v":8},{"s":"R","t":14.25,"v":7.5},{"s":"R","t":14.5,"v":7},{"s":"R","t":14.75,"v":6},
{"s":"R","t":15,"v":5.5},{"s":"R","t":15.25,"v":5},{"s":"R","t":15.5,"v":6},{"s":"R","t":15.75,"v":5},
{"s":"R","t":16,"v":6},{"s":"R","t":16.25,"v":6.5},{"s":"R","t":16.5,"v":7},{"s":"R","t":16.75,"v":6},
{"s":"R","t":17,"v":6},{"s":"R","t":17.25,"v":7},{"s":"R","t":17.5,"v":8},{"s":"R","t":17.75,"v":11},
{"s":"R","t":18,"v":17},{"s":"R","t":18.25,"v":26},{"s":"R","t":18.5,"v":33},{"s":"R","t":18.75,"v":38},
{"s":"R","t":19,"v":35},{"s":"R","t":19.25,"v":27},{"s":"R","t":19.5,"v":16},{"s":"R","t":19.75,"v":4},
{"s":"R","t":20,"v":-6},{"s":"R","t":20.25,"v":-15},{"s":"R","t":20.5,"v":-19.5},
{"s":"R","t":21,"v":-20.8},{"s":"R","t":21.5,"v":-20.7},{"s":"R","t":22,"v":-20.7},{"s":"R","t":22.5,"v":-20.6},{"s":"R","t":23,"v":-20.6},{"s":"R","t":23.5,"v":-20.7},{"s":"R","t":24,"v":-20.8}
],
"mean": [
{"t":0,"m":-20.2,"lo":-21.5,"hi":-18.9},{"t":0.25,"m":-19.8,"lo":-21.1,"hi":-18.5},{"t":0.5,"m":-19.4,"lo":-20.7,"hi":-18.1},{"t":0.75,"m":-19.1,"lo":-20.4,"hi":-17.8},
{"t":1,"m":-18.7,"lo":-20.0,"hi":-17.4},{"t":1.25,"m":-18.2,"lo":-19.5,"hi":-16.9},{"t":1.5,"m":-17.7,"lo":-19.0,"hi":-16.4},{"t":1.75,"m":-17.1,"lo":-18.4,"hi":-15.8},
{"t":2,"m":-16.6,"lo":-18.2,"hi":-15.0},{"t":2.25,"m":-16.0,"lo":-17.6,"hi":-14.4},{"t":2.5,"m":-15.4,"lo":-17.0,"hi":-13.8},{"t":2.75,"m":-14.9,"lo":-16.5,"hi":-13.3},
{"t":3,"m":-14.5,"lo":-16.1,"hi":-12.9},{"t":3.25,"m":-14.3,"lo":-15.9,"hi":-12.7},{"t":3.5,"m":-14.2,"lo":-15.8,"hi":-12.6},{"t":3.75,"m":-14.2,"lo":-15.8,"hi":-12.6},
{"t":4,"m":-14.2,"lo":-15.8,"hi":-12.6},{"t":4.25,"m":-14.0,"lo":-15.6,"hi":-12.4},{"t":4.5,"m":-13.6,"lo":-15.2,"hi":-12.0},{"t":4.75,"m":-13.1,"lo":-14.7,"hi":-11.5},
{"t":5,"m":-12.5,"lo":-13.9,"hi":-11.1},{"t":5.25,"m":-11.7,"lo":-13.1,"hi":-10.3},{"t":5.5,"m":-10.8,"lo":-12.2,"hi":-9.4},{"t":5.75,"m":-9.7,"lo":-10.8,"hi":-8.6},
{"t":6,"m":-8.5,"lo":-9.3,"hi":-7.7},{"t":6.25,"m":-6.8,"lo":-8.3,"hi":-5.3},{"t":6.5,"m":-4.5,"lo":-7.0,"hi":-2.0},{"t":6.75,"m":-2.3,"lo":-5.5,"hi":0.9},
{"t":7,"m":0,"lo":-4,"hi":4},{"t":7.25,"m":1.8,"lo":-2.7,"hi":6.3},{"t":7.5,"m":3.5,"lo":-1.5,"hi":8.5},{"t":7.75,"m":5.5,"lo":0,"hi":11},
{"t":8,"m":7.5,"lo":1.5,"hi":13.5},{"t":8.25,"m":9,"lo":2.5,"hi":15.5},{"t":8.5,"m":10.5,"lo":3.5,"hi":17.5},{"t":8.75,"m":11.8,"lo":4.3,"hi":19.3},
{"t":9,"m":13,"lo":4.5,"hi":21.5},{"t":9.25,"m":14.2,"lo":5.7,"hi":22.7},{"t":9.5,"m":15.3,"lo":6.8,"hi":23.8},{"t":9.75,"m":16.3,"lo":7.8,"hi":24.8},
{"t":10,"m":17.3,"lo":8.8,"hi":25.8},{"t":10.25,"m":18.3,"lo":9.8,"hi":26.8},{"t":10.5,"m":19.2,"lo":10.7,"hi":27.7},{"t":10.75,"m":19.9,"lo":11.4,"hi":28.4},
{"t":11,"m":20.4,"lo":11.9,"hi":28.9},{"t":11.25,"m":20.6,"lo":12.1,"hi":29.1},{"t":11.5,"m":20.6,"lo":12.1,"hi":29.1},{"t":11.75,"m":20.3,"lo":11.8,"hi":28.8},
{"t":12,"m":19.8,"lo":11.3,"hi":28.3},{"t":12.25,"m":19.2,"lo":10.7,"hi":27.7},{"t":12.5,"m":18.5,"lo":10.0,"hi":27.0},{"t":12.75,"m":17.8,"lo":9.8,"hi":25.8},
{"t":13,"m":17.0,"lo":9.0,"hi":25.0},{"t":13.25,"m":16.2,"lo":8.2,"hi":24.2},{"t":13.5,"m":15.4,"lo":7.4,"hi":23.4},{"t":13.75,"m":14.6,"lo":7.1,"hi":22.1},
{"t":14,"m":13.8,"lo":6.3,"hi":21.3},{"t":14.25,"m":13.0,"lo":5.5,"hi":20.5},{"t":14.5,"m":12.3,"lo":4.8,"hi":19.8},{"t":14.75,"m":11.6,"lo":4.6,"hi":18.6},
{"t":15,"m":10.9,"lo":3.9,"hi":17.9},{"t":15.25,"m":10.3,"lo":3.3,"hi":17.3},{"t":15.5,"m":9.7,"lo":2.7,"hi":16.7},{"t":15.75,"m":9.1,"lo":3.1,"hi":15.1},
{"t":16,"m":8.6,"lo":2.6,"hi":14.6},{"t":16.25,"m":8.1,"lo":2.1,"hi":14.1},{"t":16.5,"m":7.6,"lo":2.6,"hi":12.6},{"t":16.75,"m":7.3,"lo":2.8,"hi":11.8},
{"t":17,"m":7.1,"lo":2.6,"hi":11.6},{"t":17.25,"m":7.0,"lo":2.5,"hi":11.5},{"t":17.5,"m":7.3,"lo":3.3,"hi":11.3},{"t":17.75,"m":8.5,"lo":3.5,"hi":13.5},
{"t":18,"m":12,"lo":5,"hi":19},{"t":18.25,"m":17,"lo":9,"hi":25},{"t":18.5,"m":23,"lo":14,"hi":32},{"t":18.75,"m":24.5,"lo":15.5,"hi":33.5},
{"t":19,"m":18,"lo":9,"hi":27},{"t":19.25,"m":11,"lo":2,"hi":20},{"t":19.5,"m":4,"lo":-5,"hi":13},{"t":19.75,"m":-3,"lo":-12,"hi":6},
{"t":20,"m":-12,"lo":-19,"hi":-5},{"t":20.25,"m":-18.5,"lo":-22.5,"hi":-14.5},{"t":20.5,"m":-20.2,"lo":-23.2,"hi":-17.2},{"t":20.75,"m":-20.4,"lo":-23.4,"hi":-17.4},
{"t":21,"m":-20.3,"lo":-23.3,"hi":-17.3},{"t":21.25,"m":-20.3,"lo":-23.3,"hi":-17.3},{"t":21.5,"m":-20.2,"lo":-23.2,"hi":-17.2},{"t":21.75,"m":-20.2,"lo":-23.2,"hi":-17.2},
{"t":22,"m":-20.1,"lo":-23.1,"hi":-17.1},{"t":22.25,"m":-20.1,"lo":-23.1,"hi":-17.1},{"t":22.5,"m":-20.1,"lo":-23.1,"hi":-17.1},{"t":22.75,"m":-20.1,"lo":-22.6,"hi":-17.6},
{"t":23,"m":-20.2,"lo":-22.7,"hi":-17.7},{"t":23.25,"m":-20.2,"lo":-22.7,"hi":-17.7},{"t":23.5,"m":-20.3,"lo":-22.8,"hi":-17.8},{"t":23.75,"m":-20.4,"lo":-22.4,"hi":-18.4},
{"t":24,"m":-20.5,"lo":-22.5,"hi":-18.5}
],
"model": [
{"t":0,"v":-20},{"t":0.5,"v":-19.3},{"t":1,"v":-18.5},{"t":1.5,"v":-17.5},{"t":2,"v":-16.3},{"t":2.5,"v":-15.2},{"t":3,"v":-14.4},{"t":3.5,"v":-14.1},{"t":4,"v":-14.0},{"t":4.5,"v":-13.5},{"t":5,"v":-12.4},{"t":5.5,"v":-10.6},{"t":6,"v":-8},{"t":6.5,"v":-4.5},{"t":7,"v":-0.5},{"t":7.5,"v":3.5},{"t":8,"v":7.5},{"t":8.5,"v":11.5},{"t":9,"v":15},{"t":9.5,"v":18.2},{"t":10,"v":21},{"t":10.5,"v":22.8},{"t":11,"v":23.6},{"t":11.5,"v":23.5},{"t":12,"v":22.6},{"t":12.5,"v":21.2},{"t":13,"v":19.5},{"t":13.5,"v":17.6},{"t":14,"v":15.6},{"t":14.5,"v":13.6},{"t":15,"v":11.8},{"t":15.5,"v":10.2},{"t":16,"v":8.8},{"t":16.5,"v":7.6},{"t":17,"v":7},{"t":17.5,"v":7.5},{"t":18,"v":11},{"t":18.25,"v":15.5},{"t":18.5,"v":20},{"t":18.75,"v":22},{"t":19,"v":19},{"t":19.25,"v":12},{"t":19.5,"v":4},{"t":19.75,"v":-4},{"t":20,"v":-11},{"t":20.25,"v":-16.5},{"t":20.5,"v":-19.3},{"t":21,"v":-20},{"t":21.5,"v":-20.1},{"t":22,"v":-20.1},{"t":22.5,"v":-20.1},{"t":23,"v":-20.1},{"t":23.5,"v":-20.1},{"t":24,"v":-20.1}
],
"strokes": [
{"x":18.51,"y":50,"x2":24.25,"y2":43.72},
{"x":11.23,"y":9.79,"x2":11.98,"y2":-41.73}
]
},
"layer": [
{
"data": {"name": "days"},
"mark": {"type": "line", "strokeWidth": 1, "clip": true},
"encoding": {
"x": {"field": "t", "type": "quantitative", "scale": {"domain": [0, 24], "nice": false, "zero": false},
"axis": {"values": [0,4,8,12,16,20,24], "title": "Local Time (hours)", "titleFontSize": 14, "titleFontWeight": "bold", "titleColor": "#000", "titlePadding": 11, "labelFontSize": 12, "labelColor": "#000", "labelPadding": 14, "tickSize": 0, "domain": false, "grid": true, "gridColor": "#000", "gridDash": [8, 5], "gridOpacity": 0.85}},
"y": {"field": "v", "type": "quantitative", "scale": {"domain": [-30, 50], "nice": false, "zero": false},
"axis": {"values": [-30,-20,-10,0,10,20,30,40,50], "title": "Drifts (m/s)", "titleFontSize": 14, "titleFontWeight": "bold", "titleColor": "#000", "titlePadding": 12, "labelFontSize": 12, "labelColor": "#000", "labelPadding": 3, "tickSize": 5, "tickColor": "#000", "domain": false, "grid": true, "gridColor": "#000", "gridDash": [8, 5], "gridOpacity": 0.85}},
"color": {"field": "s", "type": "nominal", "legend": null,
"scale": {"domain": ["A","B","C","D","E","F","G","H","I","J","K","L","M","N","O","P","Q","R"],
"range": ["#000000","#993300","#ff6600","#ffff00","#33cccc","#0000ff","#000080","#ff00ff","#800080","#003300","#339966","#ff99cc","#cc99ff","#969696","#ffcc99","#3399ff","#33ccff","#ffcc00"]}}
}
},
{
"mark": {"type": "rule", "color": "#000", "strokeWidth": 1},
"encoding": {"y": {"datum": 0, "type": "quantitative"}}
},
{
"data": {"name": "mean"},
"mark": {"type": "rule", "color": "#ff0000", "strokeWidth": 2},
"encoding": {"x": {"field": "t", "type": "quantitative"}, "y": {"field": "lo", "type": "quantitative"}, "y2": {"field": "hi"}}
},
{
"data": {"name": "mean"},
"mark": {"type": "line", "color": "#ff0000", "strokeWidth": 3.5},
"encoding": {"x": {"field": "t", "type": "quantitative"}, "y": {"field": "m", "type": "quantitative"}}
},
{
"data": {"name": "model"},
"mark": {"type": "line", "color": "#3366ff", "strokeWidth": 2.5, "interpolate": "monotone"},
"encoding": {"x": {"field": "t", "type": "quantitative"}, "y": {"field": "v", "type": "quantitative"}}
},
{
"data": {"name": "strokes"},
"mark": {"type": "rule", "color": "#cc99ff", "strokeWidth": 12, "strokeCap": "butt", "clip": false},
"encoding": {"x": {"field": "x", "type": "quantitative"}, "y": {"field": "y", "type": "quantitative"}, "x2": {"field": "x2"}, "y2": {"field": "y2"}}
}
]
}
